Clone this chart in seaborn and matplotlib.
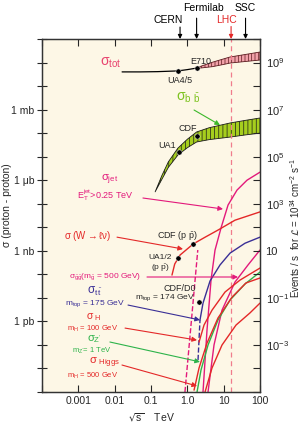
import matplotlib
matplotlib.use("Agg")
import matplotlib.pyplot as plt
from matplotlib.ticker import FixedLocator, FixedFormatter, NullLocator
import seaborn as sns

# sqrt(s) in TeV, cross sections in mb
tot_x = [0.016, 0.05, 0.15, 0.546, 1.0, 1.8]
tot_y = [40, 40, 41, 44, 50, 58]
tot_band_x = [1.8, 2.7, 5, 10, 15, 30, 60, 100]
tot_band_lo = [56, 60, 67, 83, 95, 106, 118, 128]
tot_band_hi = [60, 75, 104, 143, 172, 205, 245, 280]
tot_data_x = [0.546, 1.8]
tot_data_y = [44, 58]

bb_x = [0.13, 0.2, 0.3, 0.55, 1.0, 1.8, 4, 15, 40, 100]
bb_lo = [3.2e-4, 1.1e-3, 3.5e-3, 0.0117, 0.024, 0.042, 0.053, 0.068, 0.084, 0.10]
bb_hi = [3.2e-4, 1.6e-3, 6.0e-3, 0.023, 0.055, 0.112, 0.17, 0.27, 0.35, 0.44]
bb_data_x = [0.59, 1.8]
bb_data_y = [0.0158, 0.0755]

jet_x = [2.70, 3.48, 4.49, 5.78, 8.45, 13.2, 23.3, 43.9, 100]
jet_y = [1e-12, 4.3e-10, 5.7e-8, 1.07e-6, 9.3e-6, 8.8e-5, 3.8e-4, 1.0e-3, 2.2e-3]

w_x = [0.378, 0.45, 0.63, 1.45, 3.0, 6.98, 20.5, 100]
w_y = [9.3e-8, 2.75e-7, 6.6e-7, 1.95e-6, 3.7e-6, 7.6e-6, 2.0e-5, 4.5e-5]
w_data_x = [0.55, 1.45]
w_data_y = [4.9e-7, 1.95e-6]

gluino_x = [3.71, 5.42, 9.0, 20.5, 46.8, 100]
gluino_y = [1e-12, 9.9e-11, 3.0e-9, 4.7e-8, 2.5e-7, 1.08e-6]
gluino_edge_x = [0.86, 1.94]
gluino_edge_y = [1e-12, 1.08e-6]

tt_x = [2.23, 2.70, 4.21, 7.93, 15.0, 38.7, 100]
tt_y = [1.15e-9, 6.0e-9, 5.2e-8, 2.5e-7, 8.0e-7, 2.1e-6, 3.8e-6]
tt_low_x = [1.97, 2.23]
tt_low_y = [2.3e-11, 1.15e-9]
tt_data_x = [2.1]
tt_data_y = [6.6e-9]

h100_x = [2.10, 2.88, 4.78, 10.9, 28.2, 100]
h100_y = [1.33e-10, 7.0e-10, 3.0e-9, 1.77e-8, 5.7e-8, 1.85e-7]
zp_x = [1.85, 2.38, 3.71, 6.98, 15.0, 38.7, 100]
zp_y = [1e-12, 8.6e-12, 9.9e-11, 1.15e-9, 8.1e-9, 3.9e-8, 1.25e-7]
h500_x = [1.53, 2.10, 3.48, 6.98, 17.0, 41.2, 100]
h500_y = [1.2e-12, 1.05e-11, 1.2e-10, 1.4e-9, 1.08e-8, 4.3e-8, 7.0e-8]
red4_x = [3.07, 4.78, 9.0, 21.9, 53.1, 100]
red4_y = [1e-12, 1.05e-11, 9.9e-11, 7.0e-10, 2.3e-9, 6.0e-9]

machines = ["CERN", "Fermilab", "LHC", "SSC"]
machine_tev = [0.63, 1.8, 16, 40]

x_ticks = [1e-4, 1e-3, 1e-2, 1e-1, 1, 10, 100]
x_labels = ["", "0.001", "0.01", "0.1", "1.0", "10", "100"]
sigma_ticks = [1, 1e-3, 1e-6, 1e-9]
sigma_labels = ["1 mb", "1 \u03bcb", "1 nb", "1 pb"]
rate_exp = [9, 7, 5, 3, 1, -1, -3]

MAG = "#E3197B"
RED = "#E42828"
BLUE = "#3A2F96"
GREEN = "#2DB34A"

sns.set_style("ticks")
plt.rcParams["font.family"] = ["Liberation Sans", "DejaVu Sans"]
plt.rcParams["mathtext.default"] = "regular"
plt.rcParams["hatch.linewidth"] = 0.5

fig = plt.figure(figsize=(3.02, 4.25), dpi=100)
ax = fig.add_axes([42 / 302, 1 - 392 / 425, 218 / 302, 353 / 425])
ax.set_xscale("log")
ax.set_yscale("log")
ax.set_xlim(1e-4, 100)
ax.set_ylim(1e-12, 1e3)
ax.set_facecolor("#FDF7E6")

# total cross section
sns.lineplot(x=tot_x, y=tot_y, ax=ax, color="black", lw=0.9, estimator=None, sort=False)
ax.fill_between(tot_band_x, tot_band_lo, tot_band_hi, facecolor="#F2A2AA",
                edgecolor="#5A1A1E", hatch="|||||", lw=0.6)
sns.scatterplot(x=tot_data_x, y=tot_data_y, ax=ax, color="black", s=14, zorder=5)

# b bbar band
ax.fill_between(bb_x, bb_lo, bb_hi, facecolor="#A6CE1E", edgecolor="#1A1A1A",
                hatch="||||", lw=0.6)
sns.scatterplot(x=bb_data_x, y=bb_data_y, ax=ax, color="black", s=14, zorder=5)

# lower curves
curves = [
    (jet_x, jet_y, MAG, "-"),
    (gluino_x, gluino_y, MAG, "-"),
    (gluino_edge_x, gluino_edge_y, MAG, "--"),
    (w_x, w_y, RED, "-"),
    (tt_x, tt_y, BLUE, "-"),
    (tt_low_x, tt_low_y, BLUE, "--"),
    (h100_x, h100_y, RED, "-"),
    (zp_x, zp_y, GREEN, "-"),
    (h500_x, h500_y, RED, "-"),
    (red4_x, red4_y, RED, "-"),
]
for cx, cy, col, ls in curves:
    sns.lineplot(x=cx, y=cy, ax=ax, color=col, lw=1.0, ls=ls, estimator=None, sort=False)
sns.scatterplot(x=w_data_x, y=w_data_y, ax=ax, color="black", s=14, zorder=5)
sns.scatterplot(x=tt_data_x, y=tt_data_y, ax=ax, color="black", s=14, zorder=5)

ax.axvline(machine_tev[2], color="#F07C8C", lw=0.9, ls=(0, (4, 3)), zorder=1)

def arrow(tail, head, col):
    ax.annotate("", xy=head, xytext=tail,
                arrowprops=dict(arrowstyle="-|>", color=col, lw=0.8,
                                mutation_scale=7, shrinkA=0, shrinkB=0))

# labels
ax.text(7.9e-3, 96, r"$\sigma_{tot}$", color="#E8436E", fontsize=10, ha="center", va="center")
ax.text(2.38, 116, "E710", fontsize=6.5, ha="center", va="center")
ax.text(0.63, 18, "UA4/5", fontsize=6.5, ha="center", va="center")
ax.text(1.04, 3.1, r"$\sigma_{b\ \bar{b}}$", color="#7CC21E", fontsize=10, ha="center", va="center")
arrow((1.53, 0.96), (7.93, 0.22), "#3CB82A")
ax.text(1.04, 0.165, "CDF", fontsize=6.5, ha="center", va="center")
ax.text(0.275, 0.031, "UA1", fontsize=6.5, ha="center", va="center")

ax.text(7.4e-3, 1.05e-3, r"$\sigma_{jet}$", color=MAG, fontsize=8, ha="center", va="center")
ax.text(5.4e-3, 2.4e-4, r"E$_T^{jet}$>0.25 TeV", color=MAG, fontsize=6.5, ha="center", va="center")
arrow((0.060, 1.75e-4), (9.6, 5.96e-5), MAG)

ax.text(1.85e-3, 4.2e-6, r"$\sigma$ (W$\rightarrow\ell\nu$)", color=RED, fontsize=7, ha="center", va="center")
arrow((0.0116, 3.8e-6), (0.76, 1.19e-6), RED)
ax.text(0.55, 4.4e-6, r"CDF (p $\bar{p}$)", fontsize=6.5, ha="center", va="center")
ax.text(0.177, 5.2e-7, "UA1/2", fontsize=6, ha="center", va="center")
ax.text(0.177, 1.8e-7, r"(p $\bar{p}$)", fontsize=6, ha="center", va="center")

ax.text(5.4e-3, 7.7e-8, r"$\sigma_{\tilde{g}\tilde{g}}$(m$_{\tilde{g}}$ = 500 GeV)", color=MAG,
        fontsize=6, ha="center", va="center")
arrow((0.0776, 7.7e-8), (24.8, 7.7e-8), MAG)

ax.text(2.9e-3, 1.9e-8, r"$\sigma_{t\,\bar{t}}$", color=BLUE, fontsize=8.5, ha="center", va="center")
ax.text(2.9e-3, 5.9e-9, r"m$_{top}$ = 175 GeV", color=BLUE, fontsize=6, ha="center", va="center")
arrow((0.0233, 4.95e-9), (2.23, 1.15e-9), BLUE)
ax.text(0.63, 2.6e-8, "CDF/D0", fontsize=6.5, ha="center", va="center")
ax.text(0.243, 9.8e-9, r"m$_{top}$ = 174 GeV", fontsize=6, ha="center", va="center")

ax.text(2.7e-3, 1.5e-9, r"$\sigma_{\ H}$", color=RED, fontsize=7.5, ha="center", va="center")
ax.text(2.4e-3, 4.8e-10, r"m$_H$ = 100 GeV", color=RED, fontsize=5.5, ha="center", va="center")
arrow((0.0193, 5.2e-10), (1.85, 1.6e-10), RED)

ax.text(2.7e-3, 1.7e-10, r"$\sigma_{Z'}$", color=GREEN, fontsize=8, ha="center", va="center")
ax.text(2.4e-3, 5.5e-11, r"m$_{Z'}$= 1 TeV", color=GREEN, fontsize=5.5, ha="center", va="center")
arrow((7.4e-3, 1.33e-10), (2.23, 1.9e-11), GREEN)

ax.text(5.1e-3, 1.7e-11, r"$\sigma_{\ Higgs}$", color=RED, fontsize=8, ha="center", va="center")
ax.text(2.5e-3, 4.8e-12, r"m$_H$ = 500 GeV", color=RED, fontsize=5.5, ha="center", va="center")
arrow((0.0159, 1.4e-11), (1.85, 1.8e-12), RED)

# machines on top
text_off = [(-8.6, 13.7), (5, 22.3), (-3.6, 13.7), (0, 22.3)]
tail_off = [8.6, 15, 9, 15]
for name, e, (dx, dy), ty in zip(machines, machine_tev, text_off, tail_off):
    col = RED if name == "LHC" else "black"
    ax.annotate(name, xy=(e, 1), xycoords=("data", "axes fraction"), xytext=(dx, dy),
                textcoords="offset points", ha="center", va="center", fontsize=7.5,
                color=col, annotation_clip=False)
    ax.annotate("", xy=(e, 1), xycoords=("data", "axes fraction"), xytext=(0, ty),
                textcoords="offset points", annotation_clip=False,
                arrowprops=dict(arrowstyle="-|>", color=col, lw=0.8, mutation_scale=6,
                                shrinkA=0, shrinkB=0))

# axes, ticks
ax.xaxis.set_major_locator(FixedLocator(x_ticks))
ax.xaxis.set_major_formatter(FixedFormatter(x_labels))
ax.xaxis.set_minor_locator(NullLocator())
sig_all = [10.0 ** k for k in range(-12, 4)]
ax.yaxis.set_major_locator(FixedLocator(sig_all))
lab_map = dict(zip(sigma_ticks, sigma_labels))
ax.yaxis.set_major_formatter(FixedFormatter([lab_map.get(v, "") for v in sig_all]))
ax.yaxis.set_minor_locator(NullLocator())
ax.tick_params(axis="x", which="major", direction="in", top=True, length=5,
               labelsize=7.5, pad=3)
ax.tick_params(axis="y", which="major", direction="inout", length=7, labelsize=7.5, pad=2)
for sp in ax.spines.values():
    sp.set_linewidth(0.9)
    sp.set_color("#333333")

ax2 = ax.twinx()
ax2.set_yscale("log")
ax2.set_ylim(1e-5, 1e10)
rate_all = [10.0 ** k for k in range(-5, 11)]
ax2.yaxis.set_major_locator(FixedLocator(rate_all))
rate_lab = []
for k in range(-5, 11):
    if k in rate_exp:
        rate_lab.append("10" if k == 1 else r"$10^{%d}$" % k)
    else:
        rate_lab.append("")
ax2.yaxis.set_major_formatter(FixedFormatter(rate_lab))
ax2.yaxis.set_minor_locator(NullLocator())
ax2.tick_params(axis="y", direction="in", length=5, labelsize=8, pad=4)
for sp in ax2.spines.values():
    sp.set_linewidth(0.9)
    sp.set_color("#333333")

ax.set_xlabel(r"$\sqrt{s}$    TeV", fontsize=7.5)
ax.xaxis.set_label_coords(0.5, -0.055)
ax.set_ylabel("\u03c3 (proton - proton)", fontsize=7.5)
ax.yaxis.set_label_coords(-0.138, 0.53)
ax2.set_ylabel(r"Events / s  for $\mathcal{L}$ = 10$^{34}$ cm$^{-2}$ s$^{-1}$", fontsize=7)
ax2.yaxis.set_label_coords(1.13, 0.465)

fig.savefig("out.png", dpi=100)
